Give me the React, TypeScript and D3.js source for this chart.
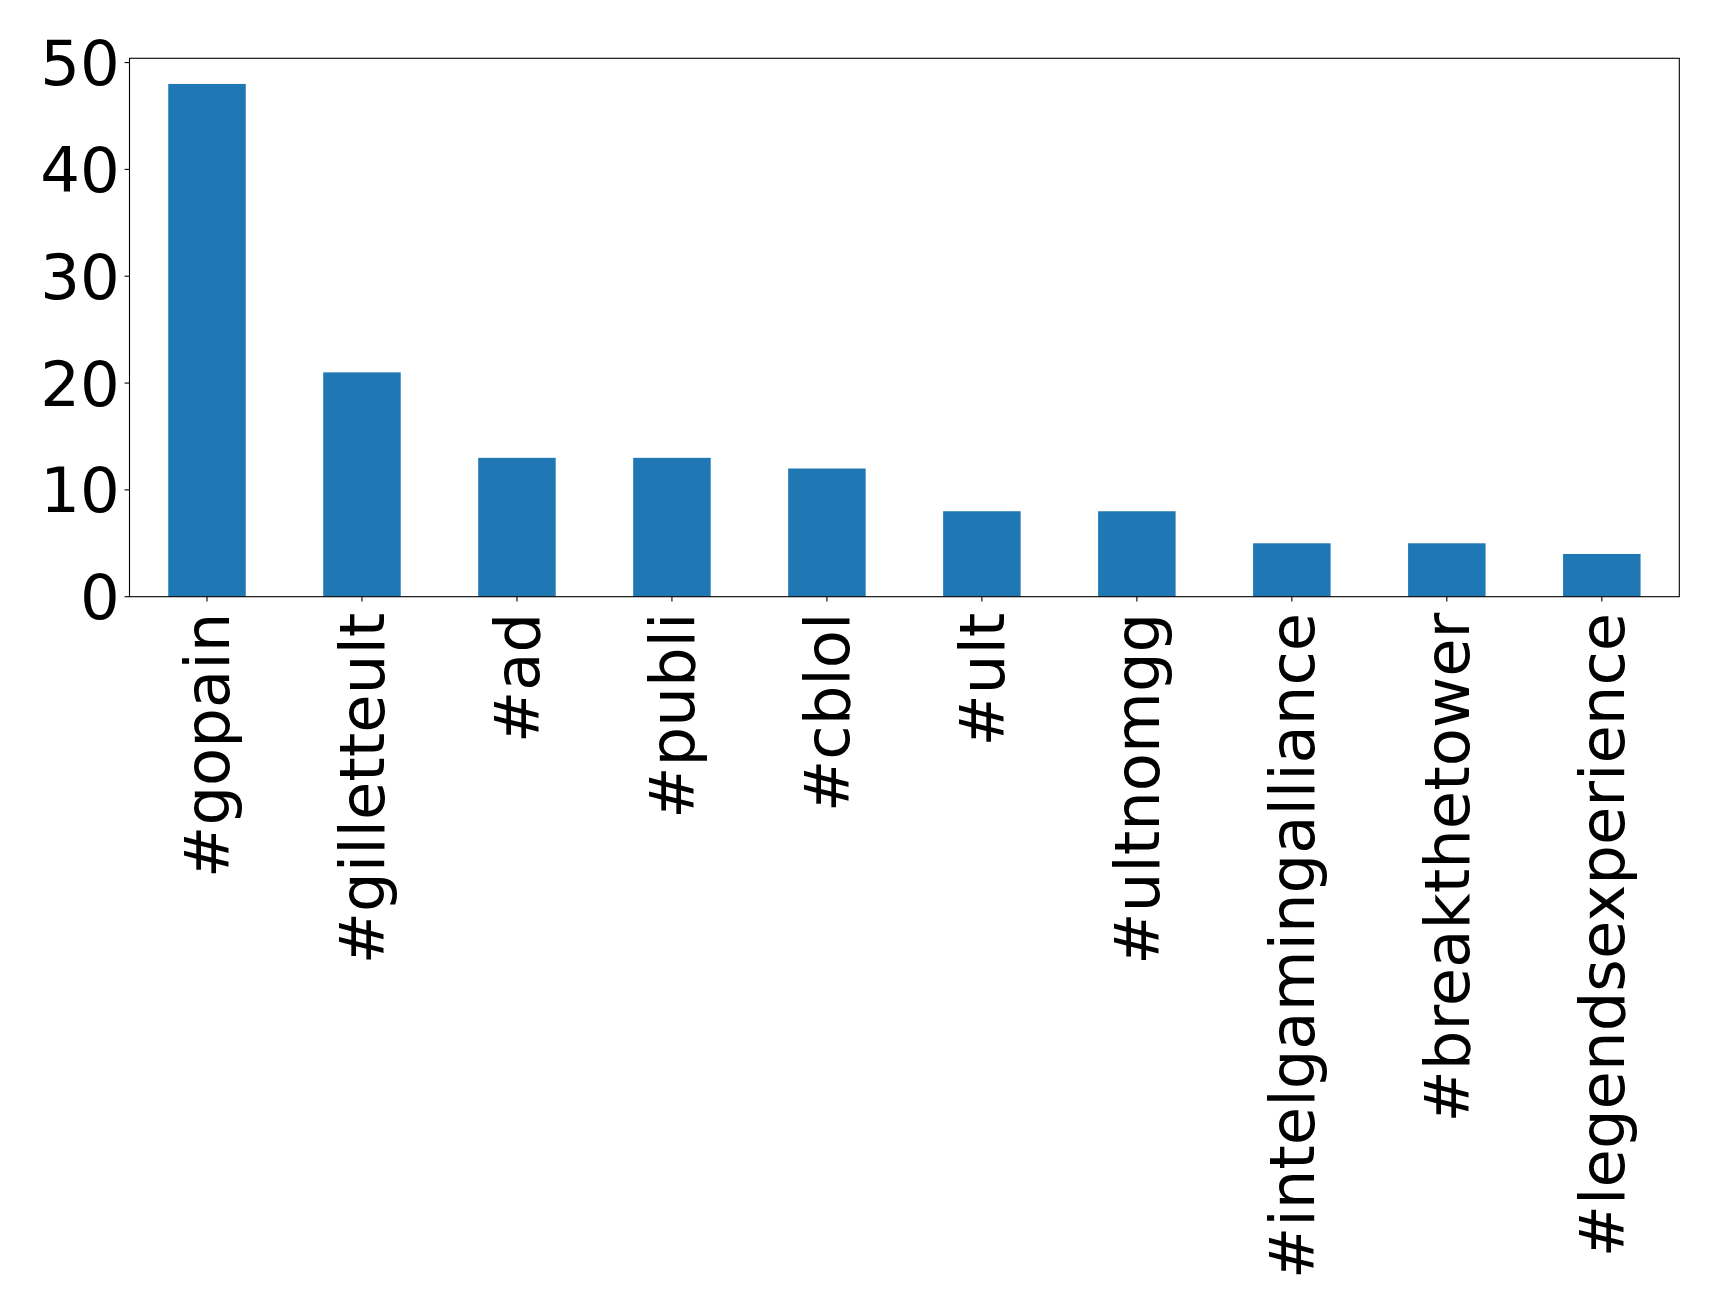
import React from "react";
import * as d3 from "d3";

const categories = ["#gopain", "#gilletteult", "#ad", "#publi", "#cblol", "#ult", "#ultnomgg", "#intelgamingalliance", "#breakthetower", "#legendsexperience"];
const values = [48, 21, 13, 13, 12, 8, 8, 5, 5, 4];
const yTicks = [0, 10, 20, 30, 40, 50];

export default function App() {
  const W = 1719, H = 1313;
  const left = 129.5, right = 1679.3, top = 58.3, bottom = 596.7;
  const x = d3.scaleLinear().domain([-0.5, 9.5]).range([left, right]);
  const y = d3.scaleLinear().domain([0, 48 * 1.05]).range([bottom, top]);
  const fs = 62.5;
  const font = "DejaVu Sans";
  return (
    <svg width={W} height={H} style={{ position: "absolute", left: 0, top: 0, background: "#fff" }}>
      <rect x={0} y={0} width={W} height={H} fill="#fff" />
      {values.map((v, i) => (
        <rect key={i} x={x(i - 0.25)} y={y(v)} width={x(i + 0.25) - x(i - 0.25)} height={y(0) - y(v)} fill="#1f77b4" />
      ))}
      <rect x={left} y={top} width={right - left} height={bottom - top} fill="none" stroke="#000" strokeWidth={1.1} />
      {yTicks.map((t) => (
        <g key={t}>
          <line x1={left - 4.9} x2={left} y1={y(t)} y2={y(t)} stroke="#000" strokeWidth={1.1} />
          <text x={left - 9.8} y={y(t)} dy="0.36em" textAnchor="end" fontFamily={font} fontSize={fs} fill="#000">{t}</text>
        </g>
      ))}
      {categories.map((c, i) => (
        <g key={c}>
          <line x1={x(i)} x2={x(i)} y1={bottom} y2={bottom + 4.9} stroke="#000" strokeWidth={1.1} />
          <text transform={`translate(${x(i)},${bottom + 16}) rotate(-90)`} dy="0.36em" textAnchor="end" fontFamily={font} fontSize={fs} fill="#000">{c}</text>
        </g>
      ))}
    </svg>
  );
}
